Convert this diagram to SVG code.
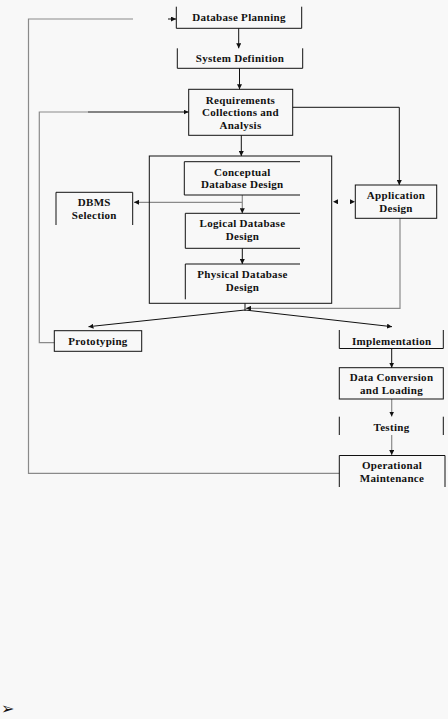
<svg xmlns="http://www.w3.org/2000/svg" width="448" height="719" viewBox="0 0 448 719">
<defs>
<style>
.bg{fill:#f8f8f8}
.box{fill:none;stroke:#111;stroke-width:1}
.t{font-family:"Liberation Serif","Times New Roman",serif;font-weight:bold;font-size:11px;letter-spacing:0.3px;fill:#111;text-anchor:middle}
.c{fill:none;stroke:#111;stroke-width:1}
.g{fill:none;stroke:#8a8a8a;stroke-width:1.2}
</style>
<marker id="ah" viewBox="0 0 6 6" refX="6" refY="3" markerWidth="5" markerHeight="5" orient="auto" markerUnits="userSpaceOnUse">
<path d="M0,0 L6,3 L0,6 z" fill="#111"/>
</marker>
</defs>
<rect class="bg" x="0" y="0" width="448" height="719"/>

<g id="connectors">
<path class="g" d="M339.3,473.3 H28.5 V19 H133"/>
<path class="c" d="M168,19 H176" marker-end="url(#ah)"/>
<path class="g" d="M54.3,342.7 H39.3 V112 H88"/>
<path class="c" d="M88,112 H188.5" marker-end="url(#ah)"/>
<path class="c" d="M238.7,28.3 V48.3" marker-end="url(#ah)"/>
<path class="c" d="M239.5,68.3 V89.3" marker-end="url(#ah)"/>
<path class="c" d="M292.7,107.3 H399.3 V185" marker-end="url(#ah)"/>
<path class="c" d="M241.3,135.3 V156" marker-end="url(#ah)"/>
<path class="g" d="M242.3,195 V213.3" marker-end="url(#ah)"/>
<path class="g" d="M242.3,202.3 H134" marker-end="url(#ah)"/>
<path class="c" d="M242.3,248.3 V264" marker-end="url(#ah)"/>
<path class="c" d="M338,201.7 H333" marker-end="url(#ah)" stroke-opacity="0"/>
<path class="c" d="M350,201.7 H355" marker-end="url(#ah)" stroke-opacity="0"/>
<path class="g" d="M400,218.3 V308.3 H246" marker-end="url(#ah)"/>
<path class="c" d="M245,303.3 V311"/>
<path class="c" d="M245,310 L88.5,326.7" marker-end="url(#ah)"/>
<path class="c" d="M245,310 L392,326.7" marker-end="url(#ah)"/>
<path class="c" d="M391.7,348 V367.7" marker-end="url(#ah)"/>
<path class="g" d="M391.7,399 V416.5" marker-end="url(#ah)"/>
<path class="g" d="M391.7,435 V455" marker-end="url(#ah)"/>
</g>

<g id="database-planning">
<path class="box" d="M176.3,6.7 V28.3 H301.7 V6.7"/>
<text class="t" x="239" y="20.5">Database Planning</text>
</g>
<g id="system-definition">
<path class="box" d="M177.3,48.3 V68.3 H302.7 V48.3"/>
<text class="t" x="240" y="61.5">System Definition</text>
</g>
<g id="requirements">
<rect class="box" x="188.7" y="89.3" width="104" height="46"/>
<text class="t" x="240.5" y="103.5">Requirements</text>
<text class="t" x="240.5" y="116">Collections and</text>
<text class="t" x="240.5" y="128.5">Analysis</text>
</g>
<g id="database-design">
<rect class="box" x="149.3" y="156" width="182.4" height="147.3"/>
</g>
<g id="conceptual">
<path class="box" d="M300,161.7 H184.3 V195 H300"/>
<text class="t" x="242.3" y="175.5">Conceptual</text>
<text class="t" x="242.3" y="188">Database Design</text>
</g>
<g id="dbms-selection">
<path class="box" d="M56,225 V192.3 H132.7 V225"/>
<text class="t" x="94.3" y="206">DBMS</text>
<text class="t" x="94.3" y="218.5">Selection</text>
</g>
<g id="logical">
<path class="box" d="M300,213.3 H185.3 V248.3 H300"/>
<text class="t" x="242.5" y="227">Logical Database</text>
<text class="t" x="242.5" y="240">Design</text>
</g>
<g id="physical">
<path class="box" d="M300,264 H185.3 V299.3"/>
<text class="t" x="242.5" y="278">Physical Database</text>
<text class="t" x="242.5" y="290.5">Design</text>
</g>
<g id="application-design">
<rect class="box" x="355.3" y="185" width="81.4" height="33.3"/>
<text class="t" x="396" y="199">Application</text>
<text class="t" x="396" y="211.5">Design</text>
</g>
<g id="prototyping">
<rect class="box" x="54.3" y="330.7" width="87.4" height="20.6"/>
<text class="t" x="98" y="345">Prototyping</text>
</g>
<g id="implementation">
<path class="box" d="M339.3,330 V348.5 H443.3 V330"/>
<text class="t" x="391.7" y="345">Implementation</text>
</g>
<g id="data-conversion">
<rect class="box" x="339.3" y="367.7" width="104" height="31.3"/>
<text class="t" x="391.5" y="381">Data Conversion</text>
<text class="t" x="391.5" y="393.5">and Loading</text>
</g>
<g id="testing">
<path class="box" d="M339.3,416.7 V435 M443.3,416.7 V435"/>
<text class="t" x="391.5" y="431">Testing</text>
</g>
<g id="operational-maintenance">
<path class="box" d="M339.3,487 V455.5 H445 V487"/>
<text class="t" x="392" y="469">Operational</text>
<text class="t" x="392" y="481.5">Maintenance</text>
</g>
<text x="1" y="714" style="font-family:'DejaVu Sans',sans-serif;font-size:16px;fill:#111">➢</text>
</svg>
